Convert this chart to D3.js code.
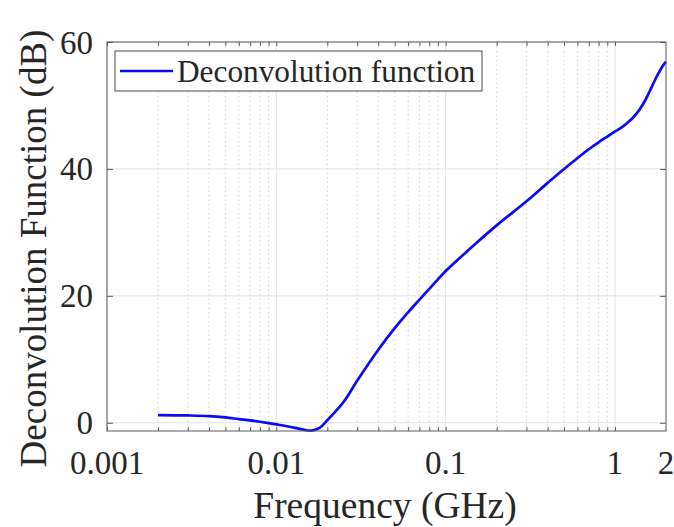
<!DOCTYPE html>
<html>
<head>
<meta charset="utf-8">
<script src="https://cdn.jsdelivr.net/npm/d3@7"></script>
<style>
  html, body { margin: 0; padding: 0; background: #fff; }
  svg { display: block; }
  text { font-family: "Liberation Serif", "Times New Roman", serif; fill: #262626; }
</style>
</head>
<body>
<svg id="chart" width="674" height="527"></svg>
<script>
// Deconvolution function magnitude (dB) versus frequency (GHz)
const freqGHz = [0.002, 0.003, 0.004, 0.005, 0.006, 0.007, 0.008, 0.009, 0.01, 0.012,
  0.014, 0.016, 0.018, 0.02, 0.025, 0.03, 0.04, 0.05, 0.06, 0.07, 0.08, 0.09, 0.1,
  0.15, 0.2, 0.3, 0.4, 0.5, 0.6, 0.7, 0.8, 0.9, 1, 1.1, 1.2, 1.3, 1.4, 1.5, 1.6,
  1.7, 1.8, 1.9, 2];
const gainDB = [1.2, 1.15, 1.05, 0.84, 0.58, 0.37, 0.16, -0.05, -0.26, -0.63,
  -1.0, -1.25, -0.8, 0.4, 3.3, 6.6, 11.5, 14.9, 17.4, 19.4, 21.1, 22.6, 23.9,
  28.2, 31.1, 34.9, 37.8, 40.0, 41.7, 43.1, 44.2, 45.1, 45.9, 46.6, 47.4, 48.3,
  49.4, 50.7, 52.2, 53.7, 55.0, 56.1, 56.9];

const xTickValues = [0.001, 0.01, 0.1, 1, 2];
const xTickLabels = ["0.001", "0.01", "0.1", "1", "2"];
const yTickValues = [0, 20, 40, 60];
const seriesName = "Deconvolution function";
const xTitle = "Frequency (GHz)";
const yTitle = "Deconvolution Function (dB)";

const svg = d3.select("#chart");
const plot = { left: 107, right: 666, top: 42, bottom: 431 };

const x = d3.scaleLog().domain([0.001, 2]).range([plot.left, plot.right]);
const y = d3.scaleLinear().domain([-1.3, 60]).range([plot.bottom, plot.top]);

// minor decade positions for the log axis
const minorX = [];
for (let e = -3; e <= 0; e++) {
  for (let m = 2; m <= 9; m++) {
    const v = m * Math.pow(10, e);
    if (v < 2) minorX.push(v);
  }
}
const majorX = [0.001, 0.01, 0.1, 1];

const grid = svg.append("g");
// minor vertical grid (dotted)
grid.selectAll("line.minor").data(minorX).join("line")
  .attr("x1", d => x(d)).attr("x2", d => x(d))
  .attr("y1", plot.top).attr("y2", plot.bottom)
  .attr("stroke", "#c8c8c8").attr("stroke-width", 0.8)
  .attr("stroke-dasharray", "1.5,3");
// major vertical grid
grid.selectAll("line.majx").data(majorX).join("line")
  .attr("x1", d => x(d)).attr("x2", d => x(d))
  .attr("y1", plot.top).attr("y2", plot.bottom)
  .attr("stroke", "#e1e1e1").attr("stroke-width", 1);
// horizontal grid
grid.selectAll("line.majy").data(yTickValues).join("line")
  .attr("x1", plot.left).attr("x2", plot.right)
  .attr("y1", d => y(d)).attr("y2", d => y(d))
  .attr("stroke", "#e1e1e1").attr("stroke-width", 1);

// curve
const line = d3.line()
  .x((d, i) => x(freqGHz[i]))
  .y(d => y(d))
  .curve(d3.curveCatmullRom.alpha(0.5));
svg.append("path")
  .datum(gainDB)
  .attr("d", line)
  .attr("fill", "none")
  .attr("stroke", "#0a0af5")
  .attr("stroke-width", 2.7)
  .attr("stroke-linejoin", "round");

// axes with inward ticks
const axisColor = "#5a5a5a";
function styleAxis(g) {
  g.select(".domain").remove();
  g.selectAll(".tick line").attr("stroke", axisColor).attr("stroke-width", 1);
}
const allXTicks = majorX.concat(minorX);
svg.append("g").attr("transform", `translate(0,${plot.bottom})`)
  .call(d3.axisBottom(x).tickValues(allXTicks).tickSize(-4).tickFormat(""))
  .call(styleAxis);
svg.append("g").attr("transform", `translate(0,${plot.top})`)
  .call(d3.axisTop(x).tickValues(allXTicks).tickSize(-4).tickFormat(""))
  .call(styleAxis);
svg.append("g").attr("transform", `translate(${plot.left},0)`)
  .call(d3.axisLeft(y).tickValues(yTickValues).tickSize(-6).tickFormat(""))
  .call(styleAxis);
svg.append("g").attr("transform", `translate(${plot.right},0)`)
  .call(d3.axisRight(y).tickValues(yTickValues).tickSize(-6).tickFormat(""))
  .call(styleAxis);

// box
svg.append("rect")
  .attr("x", plot.left).attr("y", plot.top)
  .attr("width", plot.right - plot.left).attr("height", plot.bottom - plot.top)
  .attr("fill", "none").attr("stroke", axisColor).attr("stroke-width", 1);

// tick labels
svg.append("g").selectAll("text").data(xTickValues).join("text")
  .attr("x", d => x(d)).attr("y", 474)
  .attr("text-anchor", "middle")
  .style("font-size", "33px")
  .text((d, i) => xTickLabels[i]);
svg.append("g").selectAll("text").data(yTickValues).join("text")
  .attr("x", 93).attr("y", d => y(d))
  .attr("dy", "0.35em")
  .attr("text-anchor", "end")
  .style("font-size", "33px")
  .text(d => d);

// axis titles
svg.append("text")
  .attr("x", 385).attr("y", 518)
  .attr("text-anchor", "middle")
  .style("font-size", "37.5px")
  .text(xTitle);
svg.append("text")
  .attr("transform", `translate(46,${(plot.top + plot.bottom) / 2 + 12}) rotate(-90)`)
  .attr("text-anchor", "middle")
  .style("font-size", "37px")
  .text(yTitle);

// legend
const legend = svg.append("g");
legend.append("rect")
  .attr("x", 115).attr("y", 51).attr("width", 367).attr("height", 40)
  .attr("fill", "#fff").attr("stroke", "#4a4a4a").attr("stroke-width", 1);
legend.append("line")
  .attr("x1", 120).attr("x2", 173).attr("y1", 71).attr("y2", 71)
  .attr("stroke", "#0a0af5").attr("stroke-width", 2.7);
legend.append("text")
  .attr("x", 177).attr("y", 71).attr("dy", "0.35em")
  .style("font-size", "31.3px")
  .text(seriesName);
</script>
</body>
</html>
